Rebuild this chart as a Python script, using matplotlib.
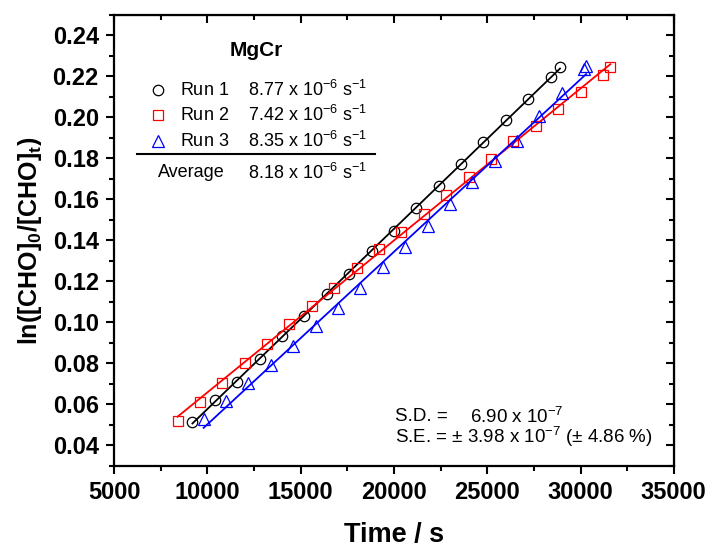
import numpy as np
import matplotlib
matplotlib.use("Agg")
import matplotlib.pyplot as plt
from matplotlib.ticker import MultipleLocator, FormatStrFormatter

plt.rcParams['font.family'] = ['Liberation Sans', 'DejaVu Sans']
plt.rcParams['mathtext.fontset'] = 'custom'
plt.rcParams['mathtext.rm'] = 'Liberation Sans'
plt.rcParams['mathtext.it'] = 'Liberation Sans:italic'
plt.rcParams['mathtext.bf'] = 'Liberation Sans:bold'

# data
t1 = [9200, 10400, 11600, 12800, 14000, 15200, 16400, 17600, 18800, 20000,
      21200, 22400, 23600, 24800, 26000, 27200, 28400, 28900]
y1 = [0.0516, 0.0622, 0.0711, 0.0822, 0.0931, 0.1032, 0.1139, 0.1235, 0.1349,
      0.1446, 0.1558, 0.1667, 0.1771, 0.1880, 0.1986, 0.2089, 0.2196, 0.2245]

t2 = [8400, 9600, 10800, 12000, 13200, 14400, 15600, 16800, 18000, 19200, 20400,
      21600, 22800, 24000, 25200, 26400, 27600, 28800, 30000, 31200, 31600]
y2 = [0.0521, 0.0612, 0.0703, 0.0801, 0.0894, 0.0991, 0.1082, 0.1167, 0.1264,
      0.1356, 0.1443, 0.1529, 0.1619, 0.1708, 0.1796, 0.1887, 0.1959, 0.2043,
      0.2123, 0.2207, 0.2245]

t3 = [9800, 11000, 12200, 13400, 14600, 15800, 17000, 18200, 19400, 20600,
      21800, 23000, 24200, 25400, 26600, 27800, 29000, 30200, 30300]
y3 = [0.0528, 0.0614, 0.0703, 0.0793, 0.0885, 0.0980, 0.1072, 0.1170, 0.1269,
      0.1368, 0.1471, 0.1578, 0.1683, 0.1787, 0.1887, 0.2007, 0.2118, 0.2237,
      0.2251]

runs = ['Run 1', 'Run 2', 'Run 3']
rates = ['8.77', '7.42', '8.35']
avg_rate = '8.18'
colors = ['black', 'red', 'blue']
markers = ['o', 's', '^']

fig = plt.figure(figsize=(7.13, 5.5), dpi=100)
ax = fig.add_axes([0.160, 0.153, 0.785, 0.820])

handles = []
for t, y, c, m, r, k in zip([t1, t2, t3], [y1, y2, y3], colors, markers, runs, rates):
    t = np.array(t, dtype=float)
    y = np.array(y)
    ms = 8.5 if m == '^' else 7.5
    h, = ax.plot(t, y, linestyle='none', marker=m, ms=ms, mfc='none', mec=c, mew=0.9,
                 label=r + '    ' + k + r' x 10$^{-6}$ s$^{-1}$')
    handles.append(h)
    p = np.polyfit(t, y, 1)
    tt = np.array([t.min(), t.max()])
    ax.plot(tt, np.polyval(p, tt), color=c, lw=1.3)

ax.set_xlim(5000, 35000)
ax.set_ylim(0.03, 0.25)
ax.xaxis.set_major_locator(MultipleLocator(5000))
ax.xaxis.set_minor_locator(MultipleLocator(2500))
ax.yaxis.set_major_locator(MultipleLocator(0.02))
ax.yaxis.set_minor_locator(MultipleLocator(0.01))
ax.yaxis.set_major_formatter(FormatStrFormatter('%.2f'))

for s in ax.spines.values():
    s.set_linewidth(1.6)
ax.tick_params(which='major', direction='out', length=6, width=1.5, labelsize=17, pad=5)
ax.tick_params(which='minor', direction='out', length=3.5, width=1.5)
for lab in ax.get_xticklabels() + ax.get_yticklabels():
    lab.set_fontweight('bold')

top = ax.secondary_xaxis('top')
top.xaxis.set_major_locator(MultipleLocator(5000))
top.xaxis.set_minor_locator(MultipleLocator(2500))
top.tick_params(which='major', direction='in', length=6, width=1.5, labeltop=False)
top.tick_params(which='minor', direction='in', length=3.5, width=1.5)
right = ax.secondary_yaxis('right')
right.yaxis.set_major_locator(MultipleLocator(0.02))
right.yaxis.set_minor_locator(MultipleLocator(0.01))
right.tick_params(which='major', direction='in', length=6, width=1.5, labelright=False)
right.tick_params(which='minor', direction='in', length=3.5, width=1.5)

ax.set_xlabel('Time / s', fontsize=19.5, fontweight='bold', labelpad=13)
ax.set_ylabel(r'ln([CHO]$_\mathbf{0}$/[CHO]$_\mathbf{t}$)', fontsize=18, fontweight='bold', labelpad=6)

ax.text(0.254, 0.922, 'MgCr', fontsize=15, fontweight='bold', transform=ax.transAxes,
        ha='center', va='center')
leg = ax.legend(handles=handles, loc='upper left', bbox_to_anchor=(0.063, 0.856), frameon=False,
                fontsize=13, handlelength=1.0, handletextpad=0.7, labelspacing=0.3,
                borderaxespad=0, borderpad=0)

ax.plot([0.041, 0.466], [0.692, 0.692], color='black', lw=1.5, transform=ax.transAxes)
ax.text(0.079, 0.650, 'Average', fontsize=13, transform=ax.transAxes, va='center')
ax.text(0.239, 0.650, avg_rate + r' x 10$^{-6}$ s$^{-1}$', fontsize=13, transform=ax.transAxes, va='center')

ax.text(0.502, 0.109, 'S.D. =', fontsize=13.5, transform=ax.transAxes, va='center')
ax.text(0.636, 0.109, r'6.90 x 10$^{-7}$', fontsize=13.5, transform=ax.transAxes, va='center')
ax.text(0.502, 0.064, r'S.E. = $\pm$ 3.98 x 10$^{-7}$ ($\pm$ 4.86 %)', fontsize=13.5,
        transform=ax.transAxes, va='center')

fig.savefig('out.png', dpi=100)
